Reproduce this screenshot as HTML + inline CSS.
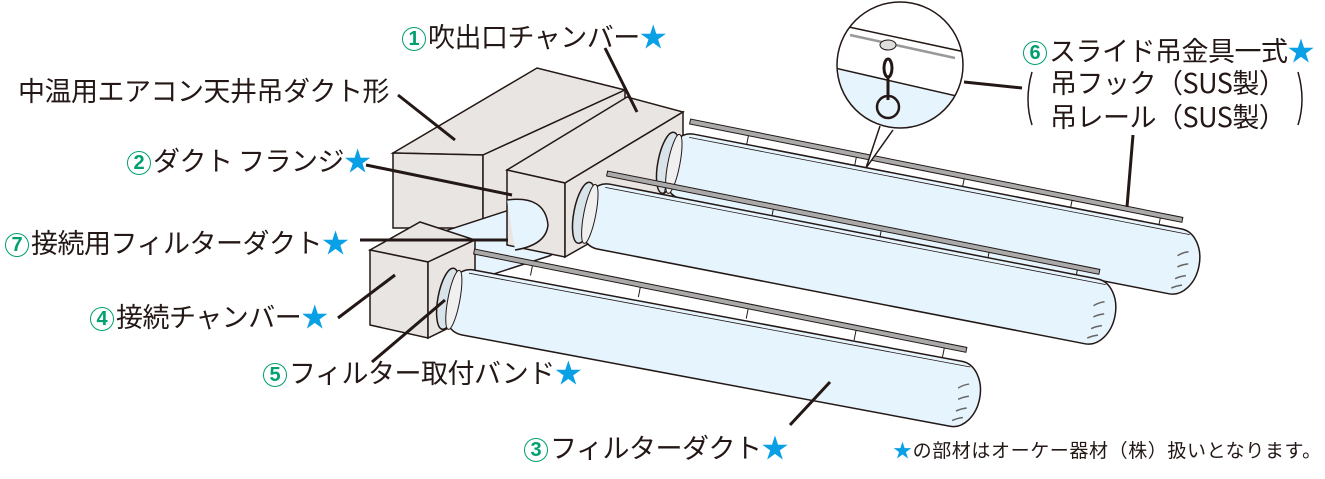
<!DOCTYPE html>
<html><head><meta charset="utf-8"><style>
body{margin:0;width:1325px;height:479px;background:#fff;position:relative;overflow:hidden;font-family:"Liberation Sans","Noto Sans CJK JP",sans-serif;color:#231815}
.t{position:absolute;font-size:27px;line-height:32px;white-space:nowrap;letter-spacing:-0.5px;font-family:"Noto Sans CJK JP","Liberation Sans",sans-serif}
.n{display:inline-block;width:22px;height:22px;border:1.5px solid #00a070;border-radius:50%;color:#00a070;font-weight:bold;font-size:20px;line-height:22px;text-align:center;vertical-align:2px;margin-right:2px;letter-spacing:0;font-family:"Liberation Sans",sans-serif}
.s{color:#0aa0e6}
</style></head><body>
<svg width="1325" height="479" style="position:absolute;left:0;top:0">
<defs>
<g id="duct">
<rect x="0" y="-33" width="545" height="66" rx="24" ry="33" fill="#e6f4fd" stroke="#231815" stroke-width="1.5"/>
<ellipse cx="4" cy="0" rx="10" ry="31" fill="#d8e4ea" stroke="#231815" stroke-width="1.5"/>
<ellipse cx="10" cy="0" rx="6" ry="30" fill="#f0f0f0" stroke="#231815" stroke-width="1"/>
<line x1="20" y1="-29" x2="530" y2="-29" stroke="#231815" stroke-width="0.8"/>
<g stroke="#666" stroke-width="1.5" fill="none">
<path d="M532,-12 q-6,2 -10,6"/><path d="M534,0 q-6,2 -10,5"/><path d="M534,12 q-6,2 -10,5"/><path d="M532,22 q-6,2 -10,5"/>
</g>
</g>
<g id="rail">
<rect x="0" y="-3" width="502" height="5" fill="#aaa" stroke="#231815" stroke-width="1"/>
<g stroke="#231815" stroke-width="1">
<line x1="60" y1="2" x2="60" y2="12"/><line x1="170" y1="2" x2="170" y2="12"/><line x1="280" y1="2" x2="280" y2="12"/><line x1="390" y1="2" x2="390" y2="12"/><line x1="480" y1="2" x2="480" y2="12"/>
</g>
</g>
<clipPath id="cc"><circle cx="900" cy="65" r="63"/></clipPath>
</defs>
<polygon points="393,153 537,68 625,90 483,155" fill="#e8e5e3" stroke="#231815" stroke-width="1.5"/>
<polygon points="393,153 483,155 483,228 393,228" fill="#e8e5e3" stroke="#231815" stroke-width="1.5"/>
<polygon points="483,155 625,90 625,170 483,228" fill="#e8e5e3" stroke="#231815" stroke-width="1.5"/>
<g transform="translate(440,262) rotate(-18)"><rect x="0" y="-28" width="120" height="56" rx="14" ry="28" fill="#e6f4fd" stroke="#231815" stroke-width="1.5"/></g>
<polygon points="507,170 627,97 683,112 565,183" fill="#e8e5e3" stroke="#231815" stroke-width="1.5"/>
<polygon points="507,170 565,183 565,257 507,245" fill="#e8e5e3" stroke="#231815" stroke-width="1.5"/>
<polygon points="565,183 683,112 683,190 565,257" fill="#e8e5e3" stroke="#231815" stroke-width="1.5"/>
<path d="M507,200 Q545,195 548,225 Q546,245 515,250" fill="#e6f4fd" stroke="#231815" stroke-width="1.5"/>
<g transform="translate(690,122) rotate(11.3)"><use href="#rail"/></g>
<g transform="translate(664,162) rotate(11)"><use href="#duct"/></g>
<g transform="translate(607,174) rotate(11.3)"><use href="#rail"/></g>
<g transform="translate(580,212) rotate(11)"><use href="#duct"/></g>
<polygon points="370,250 420,222 475,240 428,262" fill="#e8e5e3" stroke="#231815" stroke-width="1.5"/>
<polygon points="370,250 428,262 428,338 370,325" fill="#e8e5e3" stroke="#231815" stroke-width="1.5"/>
<polygon points="428,262 475,240 475,315 428,338" fill="#e8e5e3" stroke="#231815" stroke-width="1.5"/>
<g transform="translate(474,252) rotate(11.3)"><use href="#rail"/></g>
<g transform="translate(444,298) rotate(10.6)"><use href="#duct"/></g>
<circle cx="900" cy="65" r="63" fill="#fff"/>
<g clip-path="url(#cc)">
<path d="M830,68 L970,98 L970,140 L830,140Z" fill="#e6f4fd"/>
<line x1="835" y1="24" x2="965" y2="52" stroke="#231815" stroke-width="1.5"/>
<line x1="850" y1="35" x2="955" y2="58" stroke="#999" stroke-width="2.5"/>
<line x1="835" y1="68" x2="965" y2="98" stroke="#231815" stroke-width="1.5"/>
</g>
<circle cx="900" cy="65" r="63" fill="none" stroke="#231815" stroke-width="1.5"/>
<ellipse cx="888" cy="45" rx="8" ry="5" fill="#ddd" stroke="#231815"/>
<ellipse cx="888" cy="68" rx="4" ry="9" fill="none" stroke="#231815" stroke-width="3"/>
<circle cx="888" cy="107" r="11" fill="none" stroke="#231815" stroke-width="2.5"/>
<line x1="888" y1="78" x2="888" y2="100" stroke="#231815" stroke-width="3"/>
<polyline points="880,126 866,168 893,130" fill="#fff" stroke="#231815" stroke-width="1.5"/>
<g stroke="#231815" stroke-width="3" fill="none">
<line x1="398" y1="95" x2="455" y2="140"/>
<line x1="605" y1="48" x2="637" y2="112"/>
<line x1="366" y1="165" x2="512" y2="195"/>
<line x1="360" y1="240" x2="508" y2="240"/>
<line x1="338" y1="318" x2="395" y2="275"/>
<line x1="372" y1="362" x2="445" y2="300"/>
<line x1="790" y1="425" x2="830" y2="382"/>
<line x1="964" y1="82" x2="1022" y2="88"/>
<line x1="1133" y1="135" x2="1127" y2="207"/>
</g>
<path d="M1032,72 Q1024,100 1032,125" stroke="#231815" stroke-width="1.5" fill="none"/>
<path d="M1298,72 Q1306,100 1298,125" stroke="#231815" stroke-width="1.5" fill="none"/>
</svg>
<div class="t" style="left:18px;top:74px">中温用エアコン天井吊ダクト形</div>
<div class="t" style="left:402px;top:20px"><span class="n">1</span>吹出口チャンバー<span class="s">★</span></div>
<div class="t" style="left:127px;top:144px"><span class="n">2</span>ダクト フランジ<span class="s">★</span></div>
<div class="t" style="left:5px;top:226px"><span class="n">7</span>接続用フィルターダクト<span class="s">★</span></div>
<div class="t" style="left:90px;top:300px"><span class="n">4</span>接続チャンバー<span class="s">★</span></div>
<div class="t" style="left:263px;top:356px"><span class="n">5</span>フィルター取付バンド<span class="s">★</span></div>
<div class="t" style="left:524px;top:431px"><span class="n">3</span>フィルターダクト<span class="s">★</span></div>
<div class="t" style="left:1023px;top:34px"><span class="n">6</span>スライド吊金具一式<span class="s">★</span></div>
<div class="t" style="left:1050px;top:66px">吊フック（SUS製）</div>
<div class="t" style="left:1050px;top:100px">吊レール（SUS製）</div>
<div class="t" style="left:893px;top:439px;font-size:19px;line-height:22px;letter-spacing:0.6px"><span class="s">★</span>の部材はオーケー器材（株）扱いとなります。</div>
</body></html>
